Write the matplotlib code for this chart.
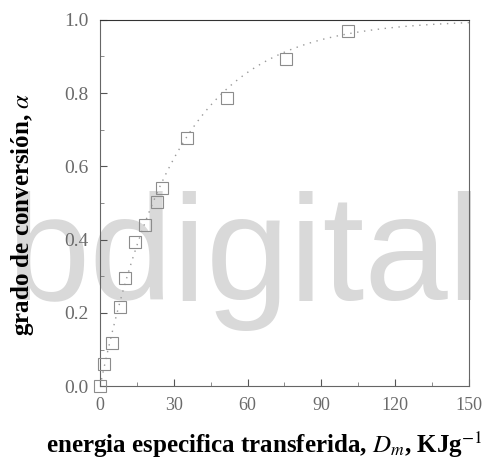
import numpy as np
import matplotlib.pyplot as plt
from matplotlib.ticker import MultipleLocator

plt.rcParams.update({
    "font.family": "serif",
    "font.serif": ["Liberation Serif", "DejaVu Serif"],
    "mathtext.fontset": "stix",
    "xtick.direction": "in",
    "ytick.direction": "in",
})

# specific energy transferred (kJ/g) vs conversion degree
energia = [0, 1.4, 4.9, 8.1, 10.2, 14.2, 18.3, 23.2, 25.2, 35.4, 51.6, 75.6, 100.8]
conversion = [0, 0.06, 0.117, 0.216, 0.295, 0.393, 0.44, 0.503, 0.54, 0.678, 0.787, 0.893, 0.97]

xticks = [0, 30, 60, 90, 120, 150]
xticklabels = ["0", "30", "60", "90", "120", "150"]
yticks = [0.0, 0.2, 0.4, 0.6, 0.8, 1.0]
yticklabels = ["0.0", "0.2", "0.4", "0.6", "0.8", "1.0"]

fig = plt.figure(figsize=(4.93, 4.71), dpi=100)
ax = fig.add_axes([0.203, 0.180, 0.748, 0.778])
ax.patch.set_alpha(0)

# repository watermark, kept under the axis labels
ax.text(0.012, 0.362, "bdigital", transform=fig.transFigure,
        family="Liberation Sans", fontsize=108, color="#d9d9d9",
        ha="left", va="baseline", zorder=0, clip_on=False)

# first order fit: theta = 1 - exp(-k D)
D = np.array(energia)
th = np.array(conversion)
mask = th < 1
k = np.sum(D[mask] * -np.log(1 - th[mask])) / np.sum(D[mask] ** 2)
dd = np.linspace(0, 150, 300)
ax.plot(dd, 1 - np.exp(-k * dd), color="#9a9a9a", lw=1.0,
        linestyle=(0, (1, 4)), zorder=2)

ax.plot(energia, conversion, linestyle="none", marker="s", markersize=8,
        markerfacecolor="none", markeredgecolor="#8c8c8c",
        markeredgewidth=0.8, clip_on=False, zorder=3)

ax.set_xlim(0, 150)
ax.set_ylim(0, 1.0)
ax.set_xticks(xticks)
ax.set_xticklabels(xticklabels)
ax.set_yticks(yticks)
ax.set_yticklabels(yticklabels)
ax.xaxis.set_minor_locator(MultipleLocator(15))
ax.yaxis.set_minor_locator(MultipleLocator(0.1))
ax.tick_params(which="major", length=5, width=0.8, colors="#555555",
               labelcolor="#6a6a6a")
ax.tick_params(axis="x", which="major", labelsize=13, pad=8)
ax.tick_params(axis="y", which="major", labelsize=14, pad=8)
ax.tick_params(which="minor", length=3, width=0.6, colors="#777777")
for sp in ax.spines.values():
    sp.set_color("#666666")
    sp.set_linewidth(0.8)
ax.spines["top"].set_color("#333333")

ax.set_xlabel(r"energia especifica transferida, $D_m$, KJg$^{-1}$",
              fontsize=18, fontweight="bold")
ax.xaxis.set_label_coords(0.444, -0.118)
ax.set_ylabel(r"grado de conversión, $\alpha$", fontsize=18,
              fontweight="bold")
ax.yaxis.set_label_coords(-0.175, 0.47)

fig.savefig("out.png", dpi=100)
